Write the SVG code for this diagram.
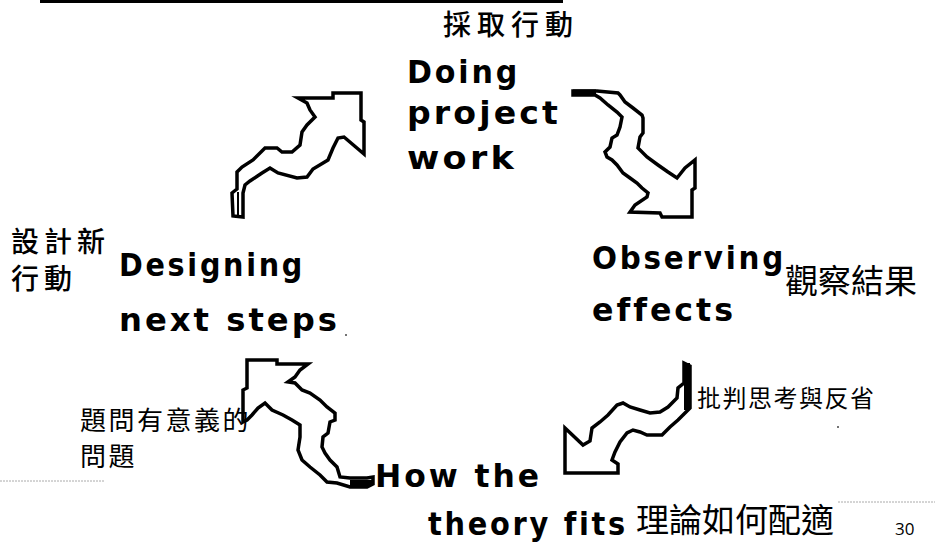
<svg xmlns="http://www.w3.org/2000/svg" width="935" height="546" viewBox="0 0 935 546">
<style>
.en{font-family:"DejaVu Sans",sans-serif;font-weight:bold;font-size:32px;letter-spacing:3px;fill:#000}
.cj{font-family:"Noto Sans CJK TC","Noto Sans CJK SC",sans-serif;fill:#000}
.arrow{fill:#fff;stroke:#000;stroke-width:3.5;stroke-linejoin:miter}
.bar{stroke:#000;fill:none}
.dot{stroke:#aaa;stroke-width:1;stroke-dasharray:2 1}
</style>
<rect x="40" y="0" width="523" height="3" fill="#000"/>
<line class="dot" x1="0" y1="481" x2="105" y2="481"/>
<line class="dot" x1="838" y1="502" x2="935" y2="502"/>
<g id="node-doing">
<text class="cj" x="443" y="35" font-size="28" font-weight="500" letter-spacing="6">採取行動</text>
<text class="en" x="407" y="83" textLength="113" lengthAdjust="spacingAndGlyphs">Doing</text>
<text class="en" x="407" y="124" textLength="154" lengthAdjust="spacingAndGlyphs">project</text>
<text class="en" x="407" y="169" textLength="110" lengthAdjust="spacingAndGlyphs">work</text>
</g>
<g id="node-observing">
<text class="en" x="592" y="269" textLength="194" lengthAdjust="spacingAndGlyphs">Observing</text>
<text class="en" x="592" y="321" textLength="144" lengthAdjust="spacingAndGlyphs">effects</text>
<text class="cj" x="785" y="293" font-size="33">觀察結果</text>
</g>
<g id="node-theory">
<text class="en" x="375" y="487" textLength="167" lengthAdjust="spacingAndGlyphs">How the</text>
<text class="en" x="428" y="535" textLength="200" lengthAdjust="spacingAndGlyphs">theory fits</text>
<text class="cj" x="636" y="532" font-size="33">理論如何配適</text>
</g>
<g id="node-designing">
<text class="cj" x="11" y="252" font-size="28" font-weight="500" letter-spacing="5">設計新</text>
<text class="cj" x="11" y="289" font-size="28" font-weight="500" letter-spacing="5">行動</text>
<text class="en" x="119" y="276" textLength="186" lengthAdjust="spacingAndGlyphs">Designing</text>
<text class="en" x="119" y="331" textLength="221" lengthAdjust="spacingAndGlyphs">next steps</text>
</g>
<g id="connectors">
<g id="arrow-doing-observing">
<polygon class="arrow" points="573,91 597,91 618,93 620,95 625,102 633,108 642,115 643,118 643,133 640,137 638,148 647,157 658,165 668,172 677,178 685,168 695,160 695,188 692,190 692,217 662,217 660,213 630,212 635,205 647,197 648,193 642,188 637,183 630,178 623,173 617,165 612,160 607,157 605,152 610,147 612,138 617,135 620,127 622,117 617,112 608,105 600,98 595,95 573,95"/>
<line class="bar" x1="573" y1="92" x2="596" y2="92" stroke-width="5"/>
</g>
<g id="arrow-observing-theory">
<polygon class="arrow" points="565,428 583,445 590,441 592,428 600,422 608,415 617,405 623,403 630,407 640,410 650,413 660,412 668,407 677,398 678,388 684,383 684,363 690,366 690,408 685,413 678,420 670,427 662,435 647,435 640,432 633,430 627,433 620,442 615,452 612,460 618,464 618,473 565,473"/>
<line class="bar" x1="687" y1="363" x2="687" y2="410" stroke-width="6"/>
<text class="cj" x="697" y="407" font-size="24" letter-spacing="1.5">批判思考與反省</text>
</g>
<g id="arrow-theory-designing">
<polygon class="arrow" points="247,360 277,360 277,364 308,364 300,370 295,377 288,382 295,383 302,390 310,393 320,400 327,407 335,413 335,420 330,422 328,433 323,437 322,447 325,453 330,460 337,467 340,477 350,478 367,478 373,477 373,484 367,487 350,487 337,483 327,482 320,475 310,467 302,460 298,450 300,437 300,425 292,420 283,415 272,410 265,403 258,408 252,415 247,420 243,422 243,390 247,388"/>
<line class="bar" x1="350" y1="483" x2="373" y2="483" stroke-width="6"/>
<text class="cj" x="80" y="430" font-size="26" letter-spacing="2.5">題問有意義的</text>
<text class="cj" x="80" y="466" font-size="26" letter-spacing="2.5">問題</text>
</g>
<g id="arrow-designing-doing">
<polygon class="arrow" points="298,98 333,98 333,93 361,93 361,120 364,122 364,154 344,137 338,138 333,148 328,160 313,169 307,177 297,178 278,173 270,168 262,173 250,181 245,185 243,193 243,217 233,216 232,193 237,189 237,172 242,167 253,160 265,148 277,148 282,152 292,152 300,145 302,132 307,125 315,117 310,110 307,103"/>
<line class="bar" x1="238" y1="192" x2="238" y2="216" stroke-width="2"/>
</g>
</g>
<text x="895" y="535" font-family="Open Sans,sans-serif" font-size="17" fill="#000">30</text>
<circle cx="346" cy="335" r="1" fill="#444"/>
<circle cx="838" cy="427" r="1" fill="#444"/>
</svg>
